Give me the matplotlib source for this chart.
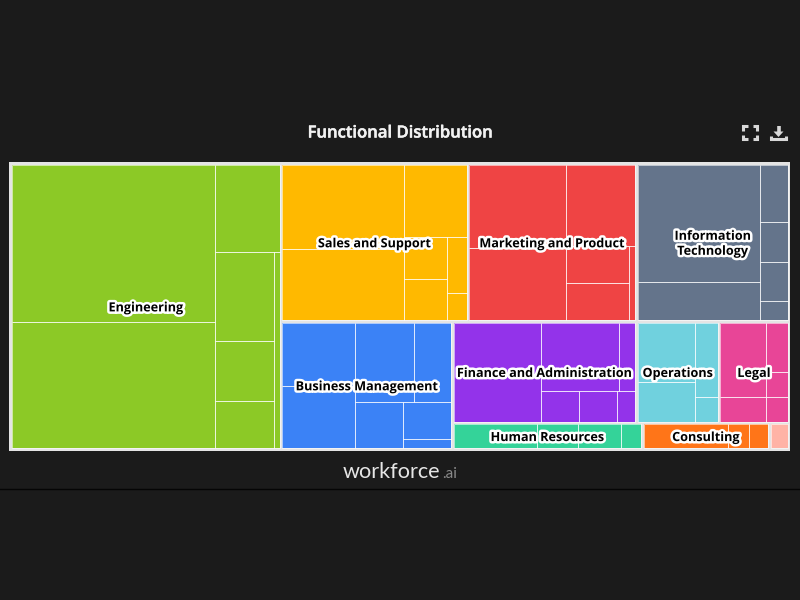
import matplotlib
matplotlib.use('Agg')
import matplotlib.pyplot as plt
import matplotlib.patheffects as pe
from matplotlib.patches import Rectangle

BG = '#1b1b1b'
FRAME = '#e4e4e4'

labels = ["Engineering", "Sales and Support", "Marketing and Product", "Information\nTechnology",
          "Business Management", "Finance and Administration", "Operations", "Legal",
          "Human Resources", "Consulting", ""]
colors = ['#8cc926', '#ffb900', '#ef4444', '#64748b', '#3b82f6', '#9333ea',
          '#70d1de', '#e84597', '#34d399', '#ff7518', '#ffb3a6']
group_totals = [77363, 29477, 26589, 24065, 21961, 18676, 8374, 7105, 5070, 3394, 521]

engineering = [31714, 25654, 5688, 5284, 3570, 2838, 1080]
sales = [10211, 8699, 4512, 1768, 1738, 1114, 540]
marketing = [7993, 6934, 5625, 2384, 2327, 468]
it = [14381, 4622, 1570, 1080, 1085, 512]
business = [4583, 4510, 4744, 2921, 2236, 1751, 444]
finance = [8643, 5304, 1068, 1178, 1178, 549]
operations = [3415, 2258, 1693, 554]
legal = [3432, 1122, 1049, 548, 522]
hr = [1985, 998, 1032, 473]
consulting = [2006, 504, 466]
other = [400]
members = [engineering, sales, marketing, it, business, finance, operations, legal, hr, consulting, other]

# how each block is cut up: (strip direction, number of items in the strip)
group_plan = [('col', 1), ('row', 3), ('col', 1), ('row', 3), ('row', 3)]
member_plans = [
    [('col', 2), ('row', 1), ('col', 3), ('col', 1)],
    [('col', 2), ('row', 1), ('col', 2), ('col', 2)],
    [('col', 2), ('row', 1), ('col', 2), ('col', 1)],
    [('col', 2), ('col', 4)],
    [('col', 2), ('row', 2), ('col', 1), ('col', 2)],
    [('col', 1), ('row', 2), ('row', 3)],
    [('col', 2), ('col', 2)],
    [('col', 2), ('col', 3)],
    [('col', 1), ('col', 1), ('col', 1), ('col', 1)],
    [('col', 1), ('col', 1), ('col', 1)],
    [('col', 1)],
]


def layout(values, plan, x0, y0, x1, y1):
    rects = []
    i = 0
    left = float(sum(values))
    for direction, count in plan:
        chunk = values[i:i + count]
        total = sum(chunk)
        share = total / left
        if direction == 'col':
            w = (x1 - x0) * share
            y = y0
            for v in chunk:
                h = (y1 - y0) * v / total
                rects.append((x0, y, w, h))
                y += h
            x0 += w
        else:
            h = (y1 - y0) * share
            x = x0
            for v in chunk:
                w = (x1 - x0) * v / total
                rects.append((x, y0, w, h))
                x += w
            y0 += h
        i += count
        left -= total
    return rects


fig = plt.figure(figsize=(8, 6), dpi=100, facecolor=BG)
ax = fig.add_axes([0, 0, 1, 1])
ax.set_xlim(0, 800)
ax.set_ylim(600, 0)
ax.axis('off')

ax.add_patch(Rectangle((9.3, 162.3), 781, 288.5, color=FRAME, lw=0))

inset = 1.3
groups = layout(group_totals, group_plan, 10.7, 163.7, 789, 449.7)
for rect, name, col, vals, plan in zip(groups, labels, colors, members, member_plans):
    x, y, w, h = rect
    x0, y0, x1, y1 = x + inset, y + inset, x + w - inset, y + h - inset
    ax.add_patch(Rectangle((x0, y0), x1 - x0, y1 - y0, facecolor=col, lw=0))
    for lx, ly, lw_, lh in layout(vals, plan, x0, y0, x1, y1):
        ax.add_patch(Rectangle((lx, ly), lw_, lh, facecolor='none', edgecolor='#ffffff',
                               alpha=0.6, lw=0.7))
    if name:
        ax.text((x0 + x1) / 2, (y0 + y1) / 2 + 1.2, name, ha='center', va='center', fontsize=9.1,
                family='Open Sans', weight='bold', color='black', linespacing=1.2,
                path_effects=[pe.withStroke(linewidth=3.6, foreground='white')])

ax.text(400.5, 133.5, "Functional Distribution", ha='center', va='center', color='#f2f2f2',
        fontsize=12, family='Open Sans', weight='semibold',
        path_effects=[pe.withStroke(linewidth=0.35, foreground='#f2f2f2')])

# fullscreen icon
icon = dict(color='#d8d8d8', lw=2.2, solid_capstyle='butt', solid_joinstyle='miter')
for sx, cx in [(1, 743), (-1, 757)]:
    for sy, cy in [(1, 126), (-1, 139)]:
        ax.plot([cx + sx * 4.5, cx, cx], [cy, cy, cy + sy * 4.5], **icon)
# download icon
ax.plot([778.5, 778.5], [126, 134], color='#d8d8d8', lw=2.6, solid_capstyle='butt')
ax.fill([773.5, 783.5, 778.5], [131.5, 131.5, 137], color='#d8d8d8', lw=0)
ax.plot([771, 771, 786, 786], [136, 139, 139, 136], **icon)

ax.text(343, 472, "workforce", ha='left', va='center', color='#e6e6e6', fontsize=15.6,
        family='Lato')
ax.text(442, 473.5, ".ai", ha='left', va='center', color='#8a8a8a', fontsize=11, family='Lato')

ax.plot([0, 800], [489, 489], color='#050505', lw=1)

fig.savefig('out.png', dpi=100, facecolor=BG)
